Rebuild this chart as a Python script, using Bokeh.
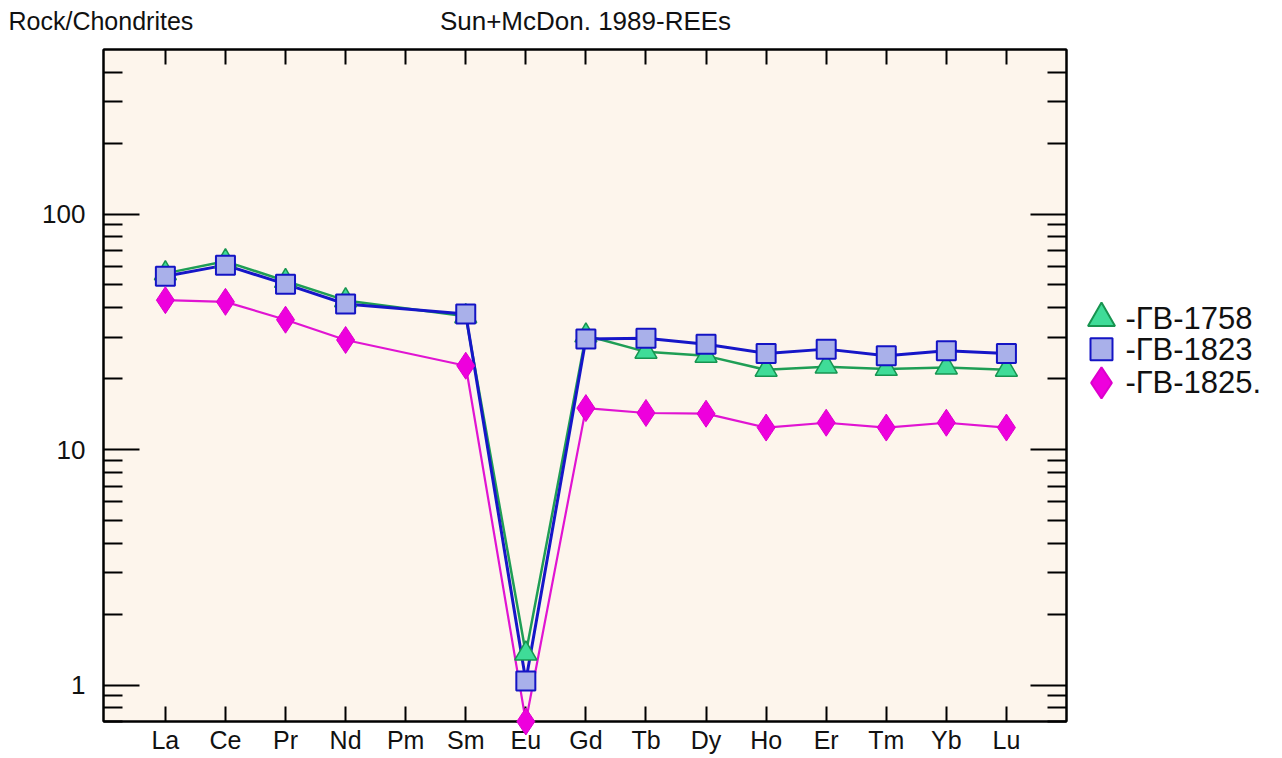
import math

from bokeh.plotting import figure
from bokeh.layouts import row
from bokeh.models import (Range1d, LogAxis, LinearAxis, FixedTicker,
                          ColumnDataSource, PrintfTickFormatter)
from bokeh.core.properties import value
from bokeh.embed import file_html
from bokeh.resources import INLINE

# Chondrite-normalised REE values (Sun & McDonough 1989); Pm not analysed
elements = ["La", "Ce", "Pr", "Nd", "Pm", "Sm", "Eu", "Gd", "Tb", "Dy",
            "Ho", "Er", "Tm", "Yb", "Lu"]
gv1758 = [56.0, 63.0, 52.0, 43.0, None, 36.8, 1.36, 30.5, 26.0, 25.0,
          21.8, 22.5, 22.0, 22.3, 21.8]
gv1823 = [54.4, 60.7, 50.4, 41.5, None, 37.6, 1.04, 29.5, 29.7, 28.0,
          25.6, 26.7, 25.0, 26.3, 25.6]
gv1825 = [43.1, 42.4, 35.6, 29.2, None, 22.7, 0.70, 15.0, 14.3, 14.2,
          12.4, 13.0, 12.4, 13.0, 12.4]
sample_names = ["-ГВ-1758", "-ГВ-1823", "-ГВ-1825."]
y_label = "Rock/Chondrites"
title_text = "Sun+McDon. 1989-REEs"

y_major = [1, 10, 100]
y_minor = [0.7, 0.8, 0.9, 2, 3, 4, 5, 6, 7, 8, 9,
           20, 30, 40, 50, 60, 70, 80, 90, 200, 300, 400]

FONT = "Liberation Sans"
positions = list(range(1, len(elements) + 1))

# Page geometry (pixels)
W, H = 1282, 758
KEY_W = 207                      # strip on the right holding the key
MAIN_W = W - KEY_W
LEFT, RIGHT, TOP, BOTTOM = 103, MAIN_W - 1066, 49, 37
X0, X1 = -0.03, 16.0
Y0, Y1 = 0.7, 500.0
FW, FH = MAIN_W - LEFT - RIGHT, H - TOP - BOTTOM


def px_to_x(px):
    """Canvas pixel column -> x data value (header texts)."""
    return X0 + (px - LEFT) * (X1 - X0) / FW


def py_to_y(py):
    """Canvas pixel row -> log-scaled y data value."""
    lo, hi = math.log10(Y0), math.log10(Y1)
    return 10 ** (hi - (py - TOP) * (hi - lo) / FH)


def source_for(values):
    xs = [x for x, v in zip(positions, values) if v is not None]
    ys = [v for v in values if v is not None]
    return ColumnDataSource(dict(x=xs, y=ys))


p = figure(width=MAIN_W, height=H,
           x_range=Range1d(X0, X1), y_range=Range1d(Y0, Y1),
           y_axis_type="log", output_backend="svg", toolbar_location=None,
           min_border_left=LEFT, min_border_right=RIGHT,
           min_border_top=TOP, min_border_bottom=BOTTOM,
           background_fill_color="#fdf5ec", border_fill_color="white")
p.grid.visible = False
p.outline_line_color = "black"
p.outline_line_width = 2


def style_y(axis, labels=True):
    axis.ticker = FixedTicker(ticks=y_major, minor_ticks=y_minor)
    axis.axis_line_color = "black"
    axis.axis_line_width = 2
    axis.major_tick_line_width = 2
    axis.minor_tick_line_width = 2
    axis.major_tick_in = 36
    axis.major_tick_out = 0
    axis.minor_tick_in = 19
    axis.minor_tick_out = 0
    axis.major_label_text_font = FONT
    axis.major_label_text_font_size = "26px"
    axis.major_label_text_color = "#111111"
    if labels:
        axis.major_label_standoff = 18
    else:
        axis.major_label_standoff = 0
        axis.major_label_overrides = {t: "" for t in y_major}


def style_x(axis, labels=True):
    axis.ticker = FixedTicker(ticks=positions, minor_ticks=[])
    axis.axis_line_color = "black"
    axis.axis_line_width = 2
    axis.major_tick_line_width = 2
    axis.major_tick_in = 15
    axis.major_tick_out = 0
    axis.minor_tick_line_color = None
    axis.major_label_text_font = FONT
    axis.major_label_text_font_size = "25px"
    axis.major_label_text_color = "#111111"
    if labels:
        axis.major_label_standoff = 4
        axis.major_label_overrides = {x: e for x, e in zip(positions, elements)}
    else:
        axis.major_label_standoff = 0
        axis.major_label_overrides = {x: "" for x in positions}


style_y(p.yaxis[0])
p.yaxis[0].formatter = PrintfTickFormatter(format="%g")
style_x(p.xaxis[0])

right_axis = LogAxis()
style_y(right_axis, labels=False)
p.add_layout(right_axis, "right")

top_axis = LinearAxis()
style_x(top_axis, labels=False)
p.add_layout(top_axis, "above")

# Marker styles: green triangles, blue squares, magenta diamonds
styles = [
    dict(marker="triangle", fill="#3fdc98", edge="#179450", line="#1f9e55",
         size=22, edge_w=1.5, line_w=2.5, key_size=27),
    dict(marker="square", fill="#a9b0ea", edge="#1414c4", line="#1616c8",
         size=19, edge_w=2, line_w=3, key_size=22),
    dict(marker="diamond", fill="#ee00dd", edge="#dd00cc", line="#e014d2",
         size=27, edge_w=1, line_w=2.2, key_size=31),
]

for vals, st in zip([gv1758, gv1823, gv1825], styles):
    src = source_for(vals)
    p.line("x", "y", source=src, line_color=st["line"], line_width=st["line_w"])
    p.scatter("x", "y", source=src, marker=st["marker"], size=st["size"],
              fill_color=st["fill"], line_color=st["edge"],
              line_width=st["edge_w"], level="overlay")

# Header line above the frame
p.text([px_to_x(8)], [py_to_y(20)], text=[y_label], text_font=value(FONT),
       text_font_size="25px", text_color="#111111",
       text_baseline="middle", text_align="left", level="overlay")
p.text([px_to_x(585)], [py_to_y(20)], text=[title_text], text_font=value(FONT),
       text_font_size="26px", text_color="#111111",
       text_baseline="middle", text_align="center", level="overlay")

# Key: a strip in pixel units, y growing downwards
key = figure(width=KEY_W, height=H, x_range=Range1d(0, KEY_W),
             y_range=Range1d(H, 0), output_backend="svg", title=None,
             toolbar_location=None, x_axis_location=None,
             y_axis_location=None, min_border_left=0, min_border_right=0,
             min_border_top=0, min_border_bottom=0,
             background_fill_color="white", border_fill_color="white")
key.grid.visible = False
key.outline_line_color = None

key_rows = [303, 338, 376]
marker_x = 1101 - MAIN_W
text_x = 1125 - MAIN_W
for name, st, ky in zip(sample_names, styles, key_rows):
    key.scatter([marker_x], [ky], marker=st["marker"], size=st["key_size"],
                fill_color=st["fill"], line_color=st["edge"], line_width=2)
    key.text([text_x], [ky], text=[name], text_font=value(FONT),
             text_font_size="31px", text_color="#111111",
             text_baseline="middle", text_align="left")

layout = row(p, key, spacing=0)
open("out.html", "w").write(file_html(layout, INLINE))
